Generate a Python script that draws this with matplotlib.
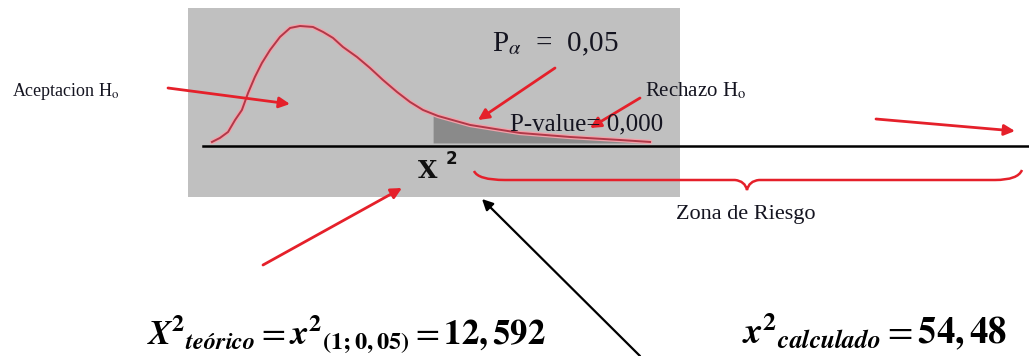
import matplotlib
matplotlib.use("Agg")
import matplotlib.pyplot as plt
import numpy as np
from matplotlib.path import Path
from matplotlib.patches import PathPatch

plt.rcParams['mathtext.fontset'] = 'stix'

# ---- data (chi-square density sketch) ----
curve_x = [0.0, 0.36, 0.73, 1.05, 1.36, 1.64, 1.95, 2.27, 2.64, 3.09, 3.55, 4.0,
           4.59, 5.05, 5.5, 5.95, 6.59, 7.18, 7.77, 8.41, 9.0, 9.59, 10.27,
           11.73, 14.0, 16.27, 18.55, 19.91]
curve_y = [0.0053, 0.0106, 0.0185, 0.0344, 0.0476, 0.0701, 0.0913, 0.1098, 0.1270,
           0.1442, 0.1561, 0.1587, 0.1574, 0.1508, 0.1429, 0.1310, 0.1177, 0.1032,
           0.0873, 0.0714, 0.0582, 0.0476, 0.0397, 0.0278, 0.0172, 0.0119, 0.0079,
           0.0053]
shade_start = 10.05

# ---- labels ----
lbl_accept = r'Aceptacion H$_{\mathrm{o}}$'
lbl_palpha = r'P$_{\alpha}$  =  0,05'
lbl_reject = r'Rechazo H$_{\mathrm{o}}$'
lbl_pvalue = 'P-value= 0,000'
lbl_zone = 'Zona de Riesgo'
lbl_chi = 'X'
lbl_chi_exp = '2'
lbl_theo = r'$\mathbfit{X}^{\mathbf{2}}{}_{\mathbfit{teórico}} = \mathbfit{x}^{\mathbf{2}}{}_{\mathbf{(1;0,05)}} = \mathbf{12,592}$'
lbl_calc = r'$\mathbfit{x}^{\mathbf{2}}{}_{\mathbfit{calculado}} = \mathbf{54,48}$'

W, H = 1029, 356
fig = plt.figure(figsize=(W / 100, H / 100), dpi=100)
fig.patch.set_facecolor('white')

# grey box with the curve
bx0, bx1, by0, by1 = 188, 680, 8, 197
axc = fig.add_axes([bx0 / W, 1 - by1 / H, (bx1 - bx0) / W, (by1 - by0) / H])
axc.set_facecolor('#c0c0c0')
axc.set_xlim(-1.09, 21.27)
axc.set_ylim(-0.0675, 0.1825)
for s in axc.spines.values():
    s.set_visible(False)
axc.set_xticks([])
axc.set_yticks([])
cx = np.array(curve_x)
cy = np.array(curve_y)
m = cx >= shade_start
sx = np.concatenate([[shade_start], cx[m]])
sy = np.concatenate([[np.interp(shade_start, cx, cy)], cy[m]])
axc.fill_between(sx, 0.004, sy, color='#8a8a8a', lw=0)
axc.plot(cx, cy, color='#f2a2aa', lw=3.2, solid_capstyle='round', solid_joinstyle='round')
axc.plot(cx, cy, color='#b03848', lw=1.4, solid_joinstyle='round')
axc.set_zorder(0)

# overlay axes in pixel coordinates
ax = fig.add_axes([0, 0, 1, 1])
ax.set_xlim(0, W)
ax.set_ylim(H, 0)
ax.axis('off')
ax.set_zorder(1)
ax.patch.set_alpha(0)

# baseline
ax.plot([203, W], [146, 146], color='black', lw=1.8)

red = '#e5202a'
def arrow(x0, y0, x1, y1, color=red, lw=2.0):
    ax.annotate('', xy=(x1, y1), xytext=(x0, y0),
                arrowprops=dict(arrowstyle='-|>', color=color, lw=lw,
                                mutation_scale=16, shrinkA=0, shrinkB=0))

arrow(168, 88, 290, 104)
arrow(555, 68, 478, 120)
arrow(640, 98, 590, 128)
arrow(876, 119, 1015, 131)
arrow(263, 265, 402, 188)
arrow(640, 356, 482, 199, color='black', lw=1.6)

# brace
verts = [(474, 171), (478, 180), (505, 180),
         (735, 180),
         (745, 181), (747, 190),
         (749, 181), (759, 180),
         (995, 180),
         (1018, 180), (1022, 170)]
codes = [Path.MOVETO, Path.CURVE3, Path.CURVE3,
         Path.LINETO,
         Path.CURVE3, Path.CURVE3,
         Path.CURVE3, Path.CURVE3,
         Path.LINETO,
         Path.CURVE3, Path.CURVE3]
ax.add_patch(PathPatch(Path(verts, codes), fill=False, edgecolor=red, lw=1.8))

serif = 'Liberation Serif'
txt = '#141420'
ax.text(12, 92, lbl_accept, family=serif, fontsize=13, color=txt, va='center', ha='left')
ax.text(492, 44, lbl_palpha, family=serif, fontsize=21, color=txt, va='center', ha='left')
ax.text(645, 91, lbl_reject, family=serif, fontsize=15, color=txt, va='center', ha='left')
ax.text(510, 124, lbl_pvalue, family=serif, fontsize=18, color=txt, va='center', ha='left')
ax.text(746, 215, lbl_zone, family=serif, fontsize=16, color=txt, va='center', ha='center')
ax.text(418, 171, lbl_chi, family='DejaVu Serif', fontweight='bold', fontsize=18, color='#111111', va='center', ha='left')
ax.text(446, 159, lbl_chi_exp, family='DejaVu Sans', fontweight='bold', fontsize=12, color='#111111', va='center', ha='left')

ax.text(147, 344, lbl_theo, fontsize=25, color='black', va='baseline', ha='left')
ax.text(742, 344, lbl_calc, fontsize=26.5, color='black', va='baseline', ha='left')

fig.savefig('out.png', dpi=100, facecolor='white')
